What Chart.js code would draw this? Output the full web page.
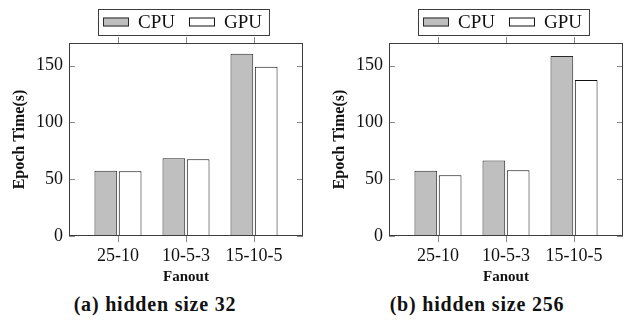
<!DOCTYPE html>
<html>
<head>
<meta charset="utf-8">
<script src="https://cdn.jsdelivr.net/npm/chart.js@4"></script>
<style>
  html, body { margin: 0; padding: 0; background: #fff; }
  body { width: 624px; height: 335px; position: relative; overflow: hidden; }
  .panel { position: absolute; top: 0; width: 304px; height: 290px; }
  .caption {
    position: absolute; top: 293px; line-height: 20px;
    font: bold 20px "Liberation Serif", serif; letter-spacing: 0.8px;
    white-space: nowrap; transform: translateX(-50%); color: #111;
  }
</style>
</head>
<body>
<div class="panel" style="left:0"><canvas id="hidden32" width="304" height="290"></canvas></div>
<div class="panel" style="left:320px"><canvas id="hidden256" width="304" height="290"></canvas></div>
<div class="caption" style="left:155px">(a) hidden size 32</div>
<div class="caption" style="left:477px">(b) hidden size 256</div>

<script>
// Fanout configurations on the x axis
const fanouts = ['25-10', '10-5-3', '15-10-5'];
// Epoch time in seconds, hidden size 32
const cpuHidden32 = [57.5, 68.5, 160.5];
const gpuHidden32 = [57, 67.5, 149];
// Epoch time in seconds, hidden size 256
const cpuHidden256 = [57.5, 66.5, 158.5];
const gpuHidden256 = [53.5, 58, 137.5];
// y-axis tick values
const epochTicks = [0, 50, 100, 150];

const serif = '"Liberation Serif", "Times New Roman", serif';

// Frame around the plot, pgfplots-style tick marks and a boxed legend
const framePlugin = {
  id: 'frame',
  afterDraw(chart) {
    const { ctx, chartArea: a, scales: { x, y } } = chart;
    ctx.save();
    ctx.lineWidth = 1;
    ctx.strokeStyle = '#8a8a8a';
    ctx.beginPath();
    epochTicks.forEach(v => {
      const py = Math.round(y.getPixelForValue(v)) + 0.5;
      ctx.moveTo(a.left, py); ctx.lineTo(a.left + 6, py);
      ctx.moveTo(a.right, py); ctx.lineTo(a.right - 6, py);
    });
    fanouts.forEach((f, i) => {
      const px = Math.round(x.getPixelForValue(i)) + 0.5;
      ctx.moveTo(px, a.top); ctx.lineTo(px, a.top - 6);
      ctx.moveTo(px, a.bottom); ctx.lineTo(px, a.bottom + 6);
    });
    ctx.stroke();

    ctx.strokeStyle = '#3c3c3c';
    ctx.strokeRect(a.left + 0.5, a.top + 0.5, a.right - a.left - 1, a.bottom - a.top - 1);

    // legend
    ctx.font = '19px ' + serif;
    ctx.textBaseline = 'middle';
    const top = 9, h = 26, left = a.left + 29;
    let cx = left + 5;
    const midY = top + h / 2;
    chart.data.datasets.forEach((ds, i) => {
      ctx.fillStyle = ds.backgroundColor;
      ctx.fillRect(cx, midY - 4.5, 26, 9);
      ctx.strokeStyle = ds.borderColor;
      ctx.strokeRect(cx + 0.5, midY - 4.5 + 0.5, 25, 8);
      cx += 26 + 9;
      ctx.fillStyle = '#111';
      ctx.fillText(ds.label, cx, midY + 1);
      cx += ctx.measureText(ds.label).width;
      if (i < chart.data.datasets.length - 1) cx += 14;
    });
    cx += 7;
    ctx.strokeStyle = '#3c3c3c';
    ctx.strokeRect(left + 0.5, top + 0.5, cx - left, h);
    ctx.restore();
  }
};

function makeChart(id, cpu, gpu) {
  return new Chart(document.getElementById(id), {
    type: 'bar',
    data: {
      datasets: [
        {
          label: 'CPU',
          data: fanouts.map((f, i) => ({ x: i, y: cpu[i] })),
          backgroundColor: '#bfbfbf',
          borderColor: '#2a2a2a',
          borderWidth: 1
        },
        {
          label: 'GPU',
          data: fanouts.map((f, i) => ({ x: i, y: gpu[i] })),
          backgroundColor: '#ffffff',
          borderColor: '#111111',
          borderWidth: 1
        }
      ]
    },
    options: {
      responsive: false,
      devicePixelRatio: 1,
      animation: false,
      events: [],
      categoryPercentage: 0.715,
      barPercentage: 0.934,
      layout: { padding: { top: 43, right: 1, bottom: 0, left: 0 } },
      plugins: { legend: { display: false }, tooltip: { enabled: false } },
      scales: {
        x: {
          type: 'linear',
          offset: false,
          min: -0.72,
          max: 2.72,
          grid: { display: false, drawTicks: false, offset: false },
          border: { display: false },
          afterBuildTicks: s => { s.ticks = fanouts.map((f, i) => ({ value: i })); },
          afterFit: s => { s.height = 54; },
          ticks: {
            autoSkip: false, maxRotation: 0, padding: 9,
            color: '#111',
            font: { family: serif, size: 18 },
            callback: v => fanouts[v]
          },
          title: {
            display: true, text: 'Fanout', color: '#111',
            font: { family: serif, size: 15, weight: 'bold' },
            padding: { top: 0, bottom: 3.5 }
          }
        },
        y: {
          min: 0,
          max: 170,
          grid: { display: false, drawTicks: false },
          border: { display: false },
          afterBuildTicks: s => { s.ticks = epochTicks.map(v => ({ value: v })); },
          afterFit: s => { s.width = 69; },
          ticks: {
            padding: 6, color: '#111',
            font: { family: serif, size: 18 }
          },
          title: {
            display: true, text: 'Epoch Time(s)', color: '#111',
            font: { family: serif, size: 16, weight: 'bold' },
            padding: { top: 10.5, bottom: 0 }
          }
        }
      }
    },
    plugins: [framePlugin]
  });
}

makeChart('hidden32', cpuHidden32, gpuHidden32);
makeChart('hidden256', cpuHidden256, gpuHidden256);
</script>
</body>
</html>
